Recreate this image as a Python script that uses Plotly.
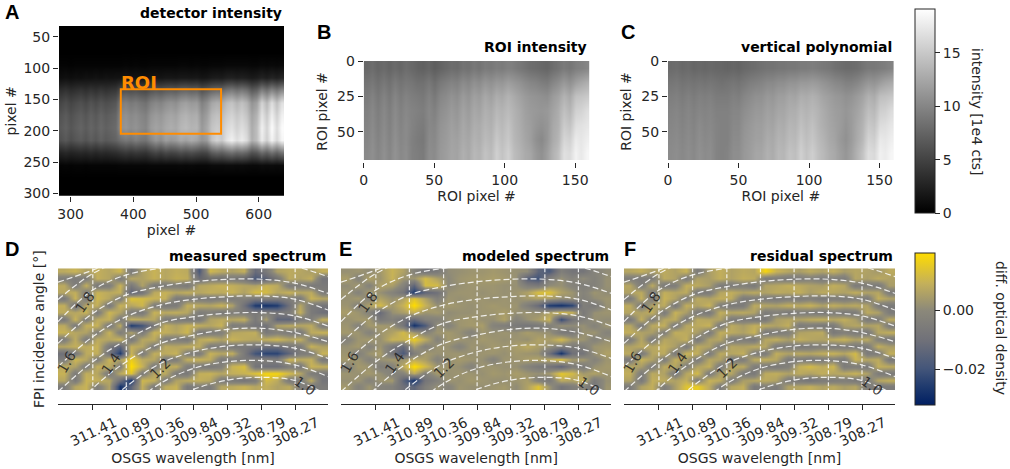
import numpy as np
import plotly.graph_objects as go

W, H = 1010, 469
FONT = "DejaVu Sans"
DARK = "#262626"

# panel A, 1e3 cts, rows every 20 px from y=35, columns every 8 px from x=284
A_X_START, A_X_STEP = 284, 8
A_Y_START, A_Y_STEP = 35, 20
DETECTOR = [
    [0] * 45,
    [0] * 45,
    [0] * 45,
    [3, 3, 2, 3, 3, 3, 3, 3, 3, 3, 3, 3, 3, 4, 3, 4, 3, 3, 4, 4, 4, 4, 4, 4, 5, 5, 4, 5, 4, 4, 5, 5, 5, 6, 6, 6, 6, 6, 5, 5, 7, 6, 7, 6, 7],
    [10, 12, 10, 12, 11, 13, 12, 14, 12, 14, 13, 14, 14, 16, 14, 15, 14, 13, 15, 16, 15, 17, 17, 16, 18, 18, 17, 18, 15, 16, 20, 21, 20, 24, 25, 22, 24, 22, 19, 21, 26, 22, 27, 23, 28],
    [34, 38, 33, 36, 39, 35, 40, 36, 41, 37, 40, 42, 58, 61, 58, 60, 56, 54, 62, 66, 63, 68, 70, 68, 74, 76, 72, 74, 62, 68, 76, 80, 78, 88, 92, 84, 90, 84, 68, 74, 96, 84, 100, 88, 102],
    [52, 58, 51, 56, 60, 54, 62, 56, 63, 58, 61, 65, 92, 96, 90, 94, 88, 84, 96, 102, 98, 106, 110, 106, 116, 120, 114, 116, 96, 106, 124, 130, 126, 140, 146, 134, 144, 134, 110, 120, 158, 136, 166, 142, 168],
    [62, 68, 60, 66, 70, 64, 72, 66, 74, 68, 72, 76, 104, 108, 102, 106, 100, 96, 110, 116, 112, 120, 124, 120, 130, 134, 128, 130, 108, 118, 138, 144, 140, 152, 158, 148, 156, 146, 122, 134, 170, 150, 178, 155, 180],
    [66, 72, 64, 70, 75, 68, 76, 70, 78, 72, 76, 80, 108, 112, 106, 110, 104, 100, 116, 122, 118, 126, 130, 126, 136, 140, 134, 136, 114, 126, 146, 152, 148, 162, 168, 156, 166, 156, 128, 142, 180, 158, 188, 164, 188],
    [60, 66, 58, 64, 68, 62, 70, 64, 72, 66, 70, 74, 84, 90, 86, 94, 88, 86, 100, 112, 104, 118, 112, 116, 126, 120, 128, 122, 110, 116, 146, 158, 150, 170, 180, 166, 176, 164, 130, 142, 176, 154, 182, 160, 184],
    [26, 30, 26, 28, 30, 28, 32, 28, 32, 30, 32, 34, 38, 42, 38, 42, 40, 38, 46, 52, 46, 54, 50, 52, 58, 54, 58, 54, 50, 52, 68, 74, 70, 78, 84, 76, 80, 74, 60, 64, 80, 70, 84, 72, 86],
    [3, 4, 3, 4, 4, 3, 4, 4, 4, 4, 4, 4, 5, 5, 5, 5, 5, 5, 6, 6, 6, 6, 6, 6, 7, 6, 7, 6, 6, 6, 8, 8, 8, 9, 9, 8, 9, 8, 7, 7, 9, 8, 9, 8, 9],
    [0] * 45,
    [0] * 45,
]

# panels B and C, 1e3 cts, rows every 10 ROI px, columns every 4 ROI px
ROI_INTENSITY = [
    [78, 82, 76, 80, 75, 80, 76, 82, 78, 74, 72, 76, 70, 74, 78, 82, 80, 86, 84, 90, 86, 92, 90, 94, 92, 96, 94, 90, 86, 82, 80, 78, 76, 82, 86, 92, 88, 94, 96, 100],
    [86, 90, 84, 90, 84, 92, 86, 90, 88, 84, 84, 90, 82, 90, 94, 98, 96, 104, 100, 108, 104, 112, 108, 114, 112, 118, 114, 110, 104, 100, 98, 94, 92, 100, 106, 114, 108, 118, 124, 130],
    [92, 98, 90, 98, 90, 100, 92, 98, 94, 92, 90, 98, 90, 100, 104, 110, 106, 116, 110, 120, 116, 126, 120, 130, 126, 134, 128, 122, 116, 112, 110, 108, 106, 116, 122, 134, 126, 144, 146, 150],
    [96, 102, 94, 102, 94, 104, 96, 102, 98, 96, 94, 102, 96, 106, 110, 116, 112, 122, 116, 126, 122, 132, 128, 138, 134, 140, 134, 128, 120, 116, 114, 112, 114, 122, 130, 144, 136, 156, 158, 166],
    [98, 104, 96, 104, 96, 106, 98, 104, 98, 94, 92, 102, 100, 110, 114, 120, 116, 126, 120, 130, 128, 136, 132, 144, 138, 146, 136, 130, 122, 118, 112, 108, 112, 126, 132, 152, 146, 166, 168, 172],
    [100, 106, 98, 106, 98, 108, 100, 104, 96, 92, 90, 104, 102, 112, 116, 122, 120, 128, 124, 134, 130, 140, 136, 150, 142, 150, 138, 132, 124, 118, 108, 102, 112, 128, 136, 160, 156, 176, 172, 178],
    [102, 108, 100, 108, 100, 110, 102, 106, 96, 94, 92, 106, 104, 114, 118, 124, 122, 132, 126, 138, 134, 146, 140, 156, 146, 156, 142, 136, 128, 124, 114, 108, 118, 134, 144, 168, 164, 182, 174, 184],
]
VERTICAL_POLY = [
    [80, 82, 78, 80, 76, 78, 76, 78, 76, 76, 74, 76, 74, 78, 80, 82, 84, 86, 86, 88, 88, 90, 90, 92, 92, 94, 92, 90, 88, 84, 82, 80, 80, 82, 86, 90, 90, 92, 94, 98],
    [88, 90, 86, 88, 86, 88, 86, 88, 86, 84, 86, 88, 86, 90, 94, 96, 98, 102, 102, 106, 106, 110, 110, 114, 114, 116, 114, 110, 106, 102, 100, 96, 96, 100, 106, 112, 110, 116, 122, 126],
    [94, 96, 92, 96, 92, 96, 94, 96, 92, 92, 92, 96, 94, 100, 104, 108, 108, 114, 112, 118, 118, 124, 122, 130, 128, 132, 128, 122, 118, 114, 112, 108, 110, 116, 122, 132, 128, 142, 144, 148],
    [98, 100, 96, 100, 96, 100, 98, 100, 96, 96, 96, 100, 100, 106, 110, 114, 114, 120, 118, 124, 124, 130, 130, 138, 134, 138, 134, 128, 122, 118, 116, 112, 116, 122, 130, 142, 138, 154, 156, 164],
    [100, 102, 98, 102, 98, 104, 100, 102, 98, 96, 96, 102, 102, 110, 114, 118, 118, 124, 122, 130, 128, 136, 134, 144, 138, 144, 136, 130, 124, 120, 116, 110, 116, 126, 134, 150, 146, 164, 166, 172],
    [102, 104, 100, 104, 100, 106, 102, 104, 98, 96, 96, 104, 104, 112, 116, 120, 120, 128, 126, 134, 132, 140, 138, 150, 142, 148, 140, 134, 126, 122, 114, 108, 116, 128, 138, 158, 154, 174, 172, 178],
    [104, 106, 102, 106, 102, 108, 104, 106, 98, 96, 98, 106, 106, 114, 118, 124, 124, 132, 128, 138, 136, 146, 142, 156, 146, 154, 144, 138, 130, 126, 118, 112, 120, 134, 146, 166, 162, 180, 176, 184],
]

# panels D, E, F, diff. optical density in 1e-3, 18 rows x 24 columns
MEASURED = [
    [8, 10, 6, 9, 7, 11, -5, 6, 10, 7, 9, 8, -18, 11, 8, 6, 9, -12, -6, 6, 8, 7, 5, 9],
    [-4, -5, -4, 9, 7, -5, 7, 6, 10, 7, 10, 9, -10, -4, -6, -5, -8, -18, -14, -5, 8, 6, 9, -8],
    [8, -5, 9, -6, -4, 10, -6, 6, -5, -5, -3, -6, 7, 8, 10, 9, 7, 6, 10, 8, -5, -4, -6, -6],
    [7, 9, -4, 10, 8, 9, -14, -8, 8, 10, 7, 9, 7, 9, 8, 10, 6, 12, 12, 7, 10, 7, 8, -5],
    [-6, 10, -5, 11, 7, -4, 14, 12, 10, 9, -5, -4, -5, -6, -4, -5, -3, -6, -4, -5, -3, -5, 10, 7],
    [9, -8, 7, 9, -6, 10, 7, 11, -4, -6, -5, 9, 8, 7, 10, 6, -10, -26, -28, -26, -10, 7, -6, -8],
    [8, 7, 10, -5, 11, 6, -5, -6, 10, 8, 9, 7, -5, -3, -6, -4, -5, -6, -4, -6, -5, 9, -6, -10],
    [-6, 10, -4, 8, 9, -5, 9, 8, 7, -5, -5, -6, -6, 6, 8, 7, 9, -6, 5, -14, -14, -5, -4, 9],
    [8, -5, 9, 10, -6, 8, -26, -20, -6, 9, 6, 10, 9, 7, 10, -5, -4, -8, -9, 6, 8, 7, 8, -5],
    [10, 7, 6, -3, 10, -4, 6, -5, 10, 9, 7, 11, -6, -5, -3, 7, 8, 9, -6, -3, -5, -6, 8, 10],
    [-4, 8, -5, 8, 7, 10, -6, 7, 8, -5, -4, -6, 8, 10, 6, 10, 8, 7, 9, 11, 7, 9, -3, -6],
    [7, 9, 8, 10, -6, -14, 9, 7, -5, 8, 7, 9, 8, -5, -4, -6, -6, -8, -10, -10, -6, -5, 10, 6],
    [-10, -6, 8, 9, -8, -26, 10, -5, 9, 8, 10, -4, -5, 10, 7, 9, -6, -20, -24, -24, -14, -5, -4, 10],
    [-5, 11, 7, -4, 10, 6, 16, 8, 7, -5, -4, 9, 10, 8, -5, -4, -6, -5, -3, -5, 11, 8, 9, -6],
    [8, 6, -5, 9, 8, -3, 20, 10, -6, 8, 9, -4, -5, -6, -3, 10, 13, -8, -10, -10, -4, -6, 10, 9],
    [10, -5, 9, 7, -6, 8, 14, -5, 7, 8, -5, -6, 9, 10, 7, 9, 10, 14, 18, 18, 12, 7, -5, -6],
    [7, -6, 10, 9, 7, -10, -28, 11, 9, -5, 6, 8, 9, 7, -5, -6, -8, -5, 12, 8, -6, -5, 8, -8],
    [-5, 7, 10, -4, 6, -28, -14, 9, -5, 8, 10, -6, -3, -5, 7, 8, 10, 7, 9, 6, 8, -4, -6, -5],
]
MODELED = [
    [2, 3, 1, 4, 10, 6, -2, -8, -6, 1, 2, 3, 3, 4, 3, 2, 1, -14, -18, -4, -8, -8, -2, 1],
    [5, -2, 6, 3, 10, 3, 3, 12, 6, 0, 3, 4, 4, 5, 4, 2, -16, -20, -4, 2, -3, 1, -3, 2],
    [1, 4, -2, 6, 5, -2, -14, 12, 12, 0, 2, 3, 3, 3, 2, 2, -4, -6, 1, 2, -2, -4, -3, 2],
    [3, -2, 4, 2, -2, -8, -26, -14, -10, 2, 3, 3, 2, 3, 2, 3, 6, 13, 14, 6, 3, -2, 3, 1],
    [2, 4, -2, 6, 2, 6, 14, 6, -3, 3, 2, 3, 3, 2, 3, 2, 4, 6, 5, 1, 2, -3, 1, 3],
    [3, -2, 6, 12, 4, 10, 20, 10, 2, 4, 3, 2, 3, 4, 3, 3, -4, -12, -26, -28, -24, -4, -6, 2],
    [5, 3, -2, -12, 2, 5, 9, 3, 4, 1, 2, 2, 3, 3, 5, 2, 3, 2, 6, 12, 10, -6, 2, 3],
    [2, 4, 4, -6, -3, -8, -12, -3, -2, 2, 3, 4, 2, 2, 6, -2, 2, 5, 10, -22, -8, -3, 2, 1],
    [3, -2, 4, 4, 3, -8, -28, -18, 2, -2, 3, 4, 5, -2, -4, -6, -8, -6, -3, 2, 1, 2, -2, 3],
    [4, 3, -2, 3, 6, 12, 4, -2, 3, 4, 2, -2, 3, 2, 3, 2, 5, 3, 2, -6, -6, 2, 3, -2],
    [-2, 3, 4, 2, 10, 10, 16, 8, -2, 4, 3, 2, 4, 3, 2, 3, 2, 6, 5, 12, 4, 3, -2, 2],
    [2, 4, -2, 3, -6, -12, 5, -3, 3, 2, -2, 3, 2, 4, 3, 5, 8, 5, 2, -4, -5, -4, 3, 4],
    [3, -3, 3, 5, -8, -18, -4, 4, 2, 3, 3, 2, 3, 3, 2, 4, 3, 2, -10, -28, -10, -8, 2, 6],
    [4, 3, -2, 2, 4, 3, 8, 5, -2, 2, 4, 3, 2, -2, 3, 3, 5, 6, 8, 14, 4, 4, -2, 3],
    [-2, 4, 3, -4, -2, 8, 20, 12, 3, 3, 2, -2, 3, 3, 2, 2, -2, -6, -8, -14, -4, -5, 2, 4],
    [3, 2, 4, 2, -3, -2, 8, -3, 4, 2, 3, 3, 2, 4, 3, 5, 3, 2, 4, 15, 12, 4, 6, 3],
    [2, 3, -2, 3, 4, -14, -28, -8, -3, 3, 2, 4, 3, 2, 2, 3, 5, -3, -6, 8, 6, 10, -6, 2],
    [4, -2, 3, -2, -3, -10, -14, -4, 2, -2, 3, 2, 2, 3, 4, 1, 6, 14, 3, -8, -4, -2, -8, 3],
]
RESIDUAL = [
    [7, 9, 5, 8, 6, 10, -5, 5, 9, 6, 8, 7, 18, 10, 7, 5, 8, 6, 9, 5, 7, 6, 4, 8],
    [-4, -5, -4, 8, 6, -5, 6, 5, 9, 6, 9, 8, -5, -4, -6, -5, -3, -6, -4, -5, 7, 5, 8, 6],
    [7, -5, 8, -6, -4, 9, 8, 5, -5, -5, -3, -6, 6, 7, 9, 8, 6, 5, 9, 7, -5, -4, -6, 5],
    [6, 8, -4, 9, 7, 8, -6, -5, 7, 9, 6, 8, 6, 8, 7, 9, 5, 8, 7, 6, 9, 6, 7, -5],
    [-5, 9, -5, 10, 6, -4, 8, 6, 9, 8, -5, -4, -5, -6, -4, -5, -3, -6, -4, -5, -3, -5, 9, 6],
    [8, -5, 6, 8, -6, 9, 6, 10, -4, -6, -5, 8, 7, 6, 9, 8, 10, 6, 9, 7, 8, 6, -5, -6],
    [7, 6, 9, -5, 10, 5, -5, -6, 9, 7, 8, 6, -5, -3, -6, -4, -5, -6, -4, -6, -5, 8, 6, -5],
    [-6, 9, -4, 7, 8, -5, 8, 7, 6, -5, -5, -6, -6, 5, 7, 6, 8, 9, 7, 9, 5, -5, -4, 8],
    [7, -5, 8, 9, -6, 7, 8, 10, -6, 8, 5, 9, 8, 6, 9, -5, -4, -6, -5, 5, 7, 6, 7, -5],
    [9, 6, 5, -3, 9, 8, 5, -5, 9, 8, 6, 10, -6, -5, -3, 6, 7, 8, -6, -3, -5, -6, 7, 9],
    [-4, 7, -5, 7, 6, 9, -6, 6, 7, -5, -4, -6, 7, 9, 5, 9, 7, 6, 8, 10, 6, 8, -3, -6],
    [6, 8, 7, 9, 5, -5, 8, 6, -5, 7, 6, 8, 7, -5, -4, -6, -5, -3, -5, -4, -6, -5, 9, 5],
    [8, -6, 7, 8, -5, 10, 9, -5, 8, 7, 9, -4, -5, 9, 6, 8, 7, 9, 10, 7, 12, -5, -4, 9],
    [-5, 10, 6, -4, 9, 5, -5, 7, 6, -5, -4, 8, 9, 7, -5, -4, -6, -5, -3, -5, 10, 7, 8, -6],
    [7, 5, -5, 8, 7, -3, 6, 9, -6, 7, 8, -4, -5, -6, -3, 9, 12, 8, 11, -5, -4, -6, 9, 8],
    [9, -5, 8, 6, -6, 7, 12, -5, 6, 7, -5, -6, 8, 9, 6, 8, 6, 9, 7, 8, 10, 6, -5, -6],
    [6, -6, 9, 8, 6, 9, -4, 10, 8, -5, 5, 7, 8, 6, -5, -6, -8, -5, -5, -4, -6, -5, 7, 9],
    [-5, 6, 9, -4, 5, 14, 16, 8, -5, 7, 9, -6, -3, -5, 6, 7, 9, 6, 8, 5, 7, -4, -6, -5],
]

WL_TICKS = [311.41, 310.89, 310.36, 309.84, 309.32, 308.79, 308.27]
WL_LEFT, WL_RIGHT = 311.95, 307.76
ROWS_TOTAL = 70

# incidence angle arcs, row number at each wavelength node (outside 0-70 is clipped)
ARC_WL = [311.95, 311.41, 310.89, 310.36, 309.84, 309.32, 308.79, 308.27, 307.76]
ARC_ROWS = [
    [8, 1, -7, -14, -19, -22, -22, -19, -13],
    [18, 3, -5, -9, -11, -13, -13, -10, -5],
    [30.7, 12.5, 3.8, 0, -1.9, -3.3, -3.3, -1, 4.8],
    [43.2, 25.9, 15.3, 10.5, 7.7, 6.3, 6.3, 8.6, 14.4],
    [56.6, 39.3, 27.8, 21.1, 17.8, 16.3, 15.9, 17.8, 24],
    [71, 53.7, 41.2, 31.6, 27.8, 25.9, 25.5, 27.4, 33.2],
    [91, 69, 53.7, 43.2, 38.4, 35.1, 34.5, 37, 42.2],
    [106, 85, 68, 54.7, 48, 44.7, 44.1, 46, 51.8],
    [122, 101, 81.5, 66.2, 57.5, 53.7, 53.1, 55.6, 62.3],
    [137, 116, 96.9, 79.6, 69.6, 64.3, 62.7, 64.6, 72.9],
]
ARC_LABELS = ["1.8", "1.6", "1.4", "1.2", "1.0"]
ARC_LABEL_WL = [311.53, 311.82, 311.12, 310.36, 308.11]
ARC_LABEL_ROW = [19.6, 53.7, 54.7, 57.5, 67.5]
ARC_LABEL_ANGLE = [-55, -60, -55, -45, 35]

DIFF_COLORS = [
    [0, "#001f62"], [0.12, "#1f3a6e"], [0.24, "#44567a"], [0.42, "#6f7079"],
    [0.62, "#8b887a"], [0.8, "#c4b05a"], [1, "#ffdc00"],
]


def fx(px):
    return px / W


def fy(py):
    return 1 - py / H


fig = go.Figure()

# grey panels
fig.add_trace(go.Heatmap(
    z=np.array(DETECTOR) / 10, x0=A_X_START, dx=A_X_STEP, y0=A_Y_START, dy=A_Y_STEP,
    coloraxis="coloraxis", zsmooth="best", xaxis="x", yaxis="y"))
for z, n in [(ROI_INTENSITY, 2), (VERTICAL_POLY, 3)]:
    fig.add_trace(go.Heatmap(
        z=np.array(z) / 10, x0=2, dx=4, y0=5, dy=10,
        coloraxis="coloraxis", zsmooth="best", xaxis=f"x{n}", yaxis=f"y{n}"))

# spectrum panels
cols = np.linspace(WL_LEFT, WL_RIGHT, 25)
cols = (cols[:-1] + cols[1:]) / 2
rows = (np.arange(18) + 0.5) * ROWS_TOTAL / 18
for z, n in [(MEASURED, 4), (MODELED, 5), (RESIDUAL, 6)]:
    fig.add_trace(go.Heatmap(
        z=np.array(z) * 1e-3, x=cols, y=rows,
        coloraxis="coloraxis2", zsmooth="best", xaxis=f"x{n}", yaxis=f"y{n}"))
    # vertical wavelength lines
    vx, vy = [], []
    for wl in WL_TICKS:
        vx += [wl, wl, None]
        vy += [0, ROWS_TOTAL, None]
    fig.add_trace(go.Scatter(
        x=vx, y=vy, mode="lines", hoverinfo="skip", showlegend=False,
        line=dict(color="rgba(255,255,255,0.85)", width=1.2, dash="4px,2px"),
        xaxis=f"x{n}", yaxis=f"y{n}"))
    for arc in ARC_ROWS:
        fig.add_trace(go.Scatter(
            x=ARC_WL, y=arc, mode="lines", hoverinfo="skip", showlegend=False,
            line=dict(color="rgba(255,255,255,0.85)", width=1.2, dash="6px,3px", shape="spline"),
            xaxis=f"x{n}", yaxis=f"y{n}"))

tickfont = dict(family=FONT, size=14, color=DARK)
titlefont = dict(family=FONT, size=14, color=DARK)


def gray_axes(n, left, right, top, bottom, xr, yr, xticks, yticks, xtitle, ytitle, xstand, ystand):
    s = "" if n == 1 else str(n)
    common = dict(ticks="outside", ticklen=5, tickwidth=1, tickcolor=DARK, showgrid=False,
                  zeroline=False, showline=False, tickfont=tickfont)
    fig.update_layout({
        f"xaxis{s}": dict(domain=[fx(left), fx(right)], range=xr, tickvals=xticks, anchor=f"y{s}",
                          title=dict(text=xtitle, font=titlefont, standoff=xstand), **common),
        f"yaxis{s}": dict(domain=[fy(bottom), fy(top)], range=yr, tickvals=yticks, anchor=f"x{s}",
                          title=dict(text=ytitle, font=titlefont, standoff=ystand), **common),
    })


gray_axes(1, 59, 284, 26, 195.7, [281.4, 640.4], [303.7, 33], [300, 400, 500, 600],
          [50, 100, 150, 200, 250, 300], "pixel #", "pixel #", 4, 3)
gray_axes(2, 363.7, 589.3, 61, 162, [0, 160], [71.5, 0], [0, 50, 100, 150], [0, 25, 50],
          "ROI pixel #", "ROI pixel #", 4, 6)
gray_axes(3, 668, 893.6, 61, 162, [0, 160], [71.5, 0], [0, 50, 100, 150], [0, 25, 50],
          "ROI pixel #", "ROI pixel #", 4, 6)

# spectrum axes, the x axis line sits below the image
spectrum_left = {4: (58, 328), 5: (341, 611.3), 6: (624, 895)}
for n, (left, right) in spectrum_left.items():
    fig.update_layout({
        f"xaxis{n}": dict(
            domain=[fx(left), fx(right)], range=[WL_LEFT, WL_RIGHT], anchor="free",
            position=fy(403.7), tickvals=WL_TICKS, ticktext=[f"{v:.2f}" for v in WL_TICKS],
            tickangle=-25, ticklabelshift=-22, ticks="outside", ticklen=5, tickcolor=DARK,
            showline=True, linecolor=DARK, linewidth=1, showgrid=False, zeroline=False,
            tickfont=tickfont,
            title=dict(text="OSGS wavelength [nm]", font=titlefont, standoff=4)),
        f"yaxis{n}": dict(
            domain=[fy(390), fy(268.3)], range=[ROWS_TOTAL, 0], anchor=f"x{n}",
            showticklabels=False, ticks="", showline=False, showgrid=False, zeroline=False,
            title=dict(text="FPI incidence angle [°]" if n == 4 else "", font=titlefont, standoff=9)),
    })

fig.update_layout(
    width=W, height=H, margin=dict(l=0, r=0, t=0, b=0, autoexpand=False), autosize=False,
    paper_bgcolor="white", plot_bgcolor="white", showlegend=False,
    font=dict(family=FONT, color=DARK),
    coloraxis=dict(
        colorscale=[[0, "black"], [1, "white"]], cmin=0, cmax=19.05,
        colorbar=dict(
            x=fx(915), xanchor="left", xpad=0, ypad=0, y=fy(9.3), yanchor="top",
            lenmode="pixels", len=203.7, thicknessmode="pixels", thickness=20,
            outlinecolor=DARK, outlinewidth=1, ticks="outside", ticklen=5, tickcolor=DARK,
            tickvals=[0, 5, 10, 15], tickfont=tickfont)),
    coloraxis2=dict(
        colorscale=DIFF_COLORS, cmin=-0.0322, cmax=0.0198,
        colorbar=dict(
            x=fx(915), xanchor="left", xpad=0, ypad=0, y=fy(252.7), yanchor="top",
            lenmode="pixels", len=152.3, thicknessmode="pixels", thickness=20,
            outlinecolor=DARK, outlinewidth=1, ticks="outside", ticklen=5, tickcolor=DARK,
            tickvals=[-0.02, 0], tickformat=".2f", tickfont=tickfont)),
)

# colorbar titles, placed by hand since plotly has no standoff for them
for t, px, py in [("intensity [1e4 cts]", 977, 111), ("diff. optical density", 1001, 328)]:
    fig.add_annotation(x=fx(px), y=fy(py), xref="paper", yref="paper", text=t, showarrow=False,
                       textangle=90, xanchor="center", yanchor="middle", font=titlefont)

# ROI box
fig.add_shape(type="rect", x0=380, x1=540, y0=134, y1=205, xref="x", yref="y",
              line=dict(color="#ff8c00", width=2))
fig.add_annotation(x=380, y=134, xref="x", yref="y", text="<b>ROI</b>", showarrow=False,
                   xanchor="left", yanchor="bottom", yshift=-6, xshift=-2,
                   font=dict(family=FONT, size=18, color="#ff8c00"))

# contour labels
for n in spectrum_left:
    for t, wl, r, a in zip(ARC_LABELS, ARC_LABEL_WL, ARC_LABEL_ROW, ARC_LABEL_ANGLE):
        fig.add_annotation(x=wl, y=r, xref=f"x{n}", yref=f"y{n}", text=t, showarrow=False,
                           textangle=a, font=dict(family=FONT, size=14, color="rgba(30,30,30,0.85)"))

# panel titles
panel_titles = [("detector intensity", 284, 13), ("ROI intensity", 589.3, 47), ("vertical polynomial", 893.6, 47),
                ("measured spectrum", 328, 256), ("modeled spectrum", 611.3, 256), ("residual spectrum", 895, 256)]
for t, px, py in panel_titles:
    fig.add_annotation(x=fx(px), y=fy(py), xref="paper", yref="paper", text=f"<b>{t}</b>", showarrow=False,
                       xanchor="right", yanchor="middle", font=dict(family=FONT, size=14, color="black"))

panel_letters = [("A", 3, 12), ("B", 315, 32), ("C", 619, 32), ("D", 3, 249), ("E", 337, 249), ("F", 622, 249)]
for t, px, py in panel_letters:
    fig.add_annotation(x=fx(px), y=fy(py), xref="paper", yref="paper", text=f"<b>{t}</b>", showarrow=False,
                       xanchor="left", yanchor="middle", font=dict(family="Liberation Sans", size=20, color="black"))

fig.write_html("out.html", config={"displayModeBar": False}, post_script="document.body.style.margin='0';")
